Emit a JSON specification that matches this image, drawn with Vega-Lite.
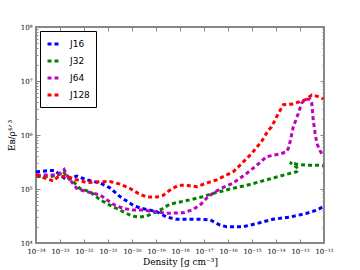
{
  "$schema": "https://vega.github.io/schema/vega-lite/v6.json",
  "width": 288,
  "height": 216,
  "autosize": {"type": "none"},
  "padding": {"left": 36, "top": 27, "right": 36, "bottom": 27},
  "background": "white",
  "config": {
    "view": {"stroke": "#888888", "strokeWidth": 2},
    "axis": {"domain": false, "grid": false, "tickColor": "#888888", "labelFont": "DejaVu Serif", "labelFontSize": 7, "labelColor": "black", "labelOverlap": false, "labelBound": false, "labelFlush": false, "titleFont": "DejaVu Serif", "titleFontWeight": "normal", "titleFontSize": 9, "titleColor": "black"}
  },
  "data": {"values": [
    {"s":"J16","i":0,"d":1e-24,"e":2.09e5},
    {"s":"J16","i":1,"d":3.8e-24,"e":2.19e5},
    {"s":"J16","i":2,"d":6.17e-24,"e":2.19e5},
    {"s":"J16","i":3,"d":1e-23,"e":1.82e5},
    {"s":"J16","i":4,"d":1.91e-23,"e":1.48e5},
    {"s":"J16","i":5,"d":5.01e-23,"e":1.74e5},
    {"s":"J16","i":6,"d":1.29e-22,"e":1.48e5},
    {"s":"J16","i":7,"d":4.68e-22,"e":1.29e5},
    {"s":"J16","i":8,"d":1.2e-21,"e":1.05e5},
    {"s":"J16","i":9,"d":3.16e-21,"e":7.24e4},
    {"s":"J16","i":10,"d":1.1e-20,"e":5.01e4},
    {"s":"J16","i":11,"d":2.14e-20,"e":4.47e4},
    {"s":"J16","i":12,"d":1.07e-19,"e":3.8e4},
    {"s":"J16","i":13,"d":2.82e-19,"e":3.02e4},
    {"s":"J16","i":14,"d":7.24e-19,"e":2.75e4},
    {"s":"J16","i":15,"d":6.76e-18,"e":2.75e4},
    {"s":"J16","i":16,"d":1.78e-17,"e":2.69e4},
    {"s":"J16","i":17,"d":4.68e-17,"e":2.14e4},
    {"s":"J16","i":18,"d":8.91e-17,"e":2.0e4},
    {"s":"J16","i":19,"d":4.17e-16,"e":2.0e4},
    {"s":"J16","i":20,"d":1.58e-15,"e":2.29e4},
    {"s":"J16","i":21,"d":7.41e-15,"e":2.75e4},
    {"s":"J16","i":22,"d":3.8e-14,"e":3.02e4},
    {"s":"J16","i":23,"d":1.91e-13,"e":3.55e4},
    {"s":"J16","i":24,"d":5.01e-13,"e":4.07e4},
    {"s":"J16","i":25,"d":9.12e-13,"e":4.68e4},
    {"s":"J32","i":0,"d":1.07e-24,"e":1.7e5},
    {"s":"J32","i":1,"d":3.8e-24,"e":1.7e5},
    {"s":"J32","i":2,"d":8.51e-24,"e":1.82e5},
    {"s":"J32","i":3,"d":1.38e-23,"e":2.09e5},
    {"s":"J32","i":4,"d":1.91e-23,"e":1.7e5},
    {"s":"J32","i":5,"d":3.55e-23,"e":1.38e5},
    {"s":"J32","i":6,"d":6.76e-23,"e":1.02e5},
    {"s":"J32","i":7,"d":1.78e-22,"e":8.91e4},
    {"s":"J32","i":8,"d":4.68e-22,"e":6.31e4},
    {"s":"J32","i":9,"d":1.2e-21,"e":5.01e4},
    {"s":"J32","i":10,"d":3.16e-21,"e":4.07e4},
    {"s":"J32","i":11,"d":9.77e-21,"e":3.16e4},
    {"s":"J32","i":12,"d":2.14e-20,"e":3.02e4},
    {"s":"J32","i":13,"d":4.07e-20,"e":3.16e4},
    {"s":"J32","i":14,"d":1.48e-19,"e":4.07e4},
    {"s":"J32","i":15,"d":3.8e-19,"e":5.25e4},
    {"s":"J32","i":16,"d":1e-18,"e":5.75e4},
    {"s":"J32","i":17,"d":2.63e-18,"e":6.31e4},
    {"s":"J32","i":18,"d":9.33e-18,"e":7.24e4},
    {"s":"J32","i":19,"d":2.45e-17,"e":8.32e4},
    {"s":"J32","i":20,"d":1.2e-16,"e":1.0e5},
    {"s":"J32","i":21,"d":6.03e-16,"e":1.17e5},
    {"s":"J32","i":22,"d":4.07e-15,"e":1.48e5},
    {"s":"J32","i":23,"d":3.8e-14,"e":1.95e5},
    {"s":"J32","i":24,"d":7.24e-14,"e":2.09e5},
    {"s":"J32","i":25,"d":8.51e-14,"e":2.4e5},
    {"s":"J32","i":26,"d":3.8e-14,"e":3.09e5},
    {"s":"J32","i":27,"d":7.24e-14,"e":2.88e5},
    {"s":"J32","i":28,"d":1.91e-13,"e":2.75e5},
    {"s":"J32","i":29,"d":5.75e-13,"e":2.75e5},
    {"s":"J32","i":30,"d":9.33e-13,"e":2.69e5},
    {"s":"J64","i":0,"d":1.07e-24,"e":1.82e5},
    {"s":"J64","i":1,"d":5.25e-24,"e":1.82e5},
    {"s":"J64","i":2,"d":1e-23,"e":1.95e5},
    {"s":"J64","i":3,"d":1.48e-23,"e":2.29e5},
    {"s":"J64","i":4,"d":1.91e-23,"e":1.82e5},
    {"s":"J64","i":5,"d":2.63e-23,"e":1.48e5},
    {"s":"J64","i":6,"d":5.01e-23,"e":1.02e5},
    {"s":"J64","i":7,"d":1.29e-22,"e":8.91e4},
    {"s":"J64","i":8,"d":4.68e-22,"e":7.76e4},
    {"s":"J64","i":9,"d":8.91e-22,"e":6.31e4},
    {"s":"J64","i":10,"d":1.95e-21,"e":5.01e4},
    {"s":"J64","i":11,"d":4.37e-21,"e":4.37e4},
    {"s":"J64","i":12,"d":1.12e-20,"e":4.07e4},
    {"s":"J64","i":13,"d":2.95e-20,"e":4.07e4},
    {"s":"J64","i":14,"d":9.12e-20,"e":3.8e4},
    {"s":"J64","i":15,"d":2.82e-19,"e":3.55e4},
    {"s":"J64","i":16,"d":1.38e-18,"e":3.63e4},
    {"s":"J64","i":17,"d":3.09e-18,"e":4.07e4},
    {"s":"J64","i":18,"d":6.76e-18,"e":5.01e4},
    {"s":"J64","i":19,"d":1.29e-17,"e":6.76e4},
    {"s":"J64","i":20,"d":2.88e-17,"e":8.91e4},
    {"s":"J64","i":21,"d":6.31e-17,"e":1.07e5},
    {"s":"J64","i":22,"d":1.66e-16,"e":1.29e5},
    {"s":"J64","i":23,"d":6.03e-16,"e":1.95e5},
    {"s":"J64","i":24,"d":1.58e-15,"e":2.75e5},
    {"s":"J64","i":25,"d":4.07e-15,"e":3.98e5},
    {"s":"J64","i":26,"d":1.48e-14,"e":4.47e5},
    {"s":"J64","i":27,"d":2.82e-14,"e":4.9e5},
    {"s":"J64","i":28,"d":3.47e-14,"e":6.03e5},
    {"s":"J64","i":29,"d":5.25e-14,"e":1.41e6},
    {"s":"J64","i":30,"d":8.51e-14,"e":2.51e6},
    {"s":"J64","i":31,"d":1.17e-13,"e":3.89e6},
    {"s":"J64","i":32,"d":1.62e-13,"e":4.57e6},
    {"s":"J64","i":33,"d":2.63e-13,"e":4.57e6},
    {"s":"J64","i":34,"d":3.09e-13,"e":3.89e6},
    {"s":"J64","i":35,"d":3.55e-13,"e":1.91e6},
    {"s":"J64","i":36,"d":4.27e-13,"e":1.07e6},
    {"s":"J64","i":37,"d":5.01e-13,"e":7.08e5},
    {"s":"J64","i":38,"d":6.76e-13,"e":5.13e5},
    {"s":"J64","i":39,"d":9.33e-13,"e":4.07e5},
    {"s":"J128","i":0,"d":1e-24,"e":1.82e5},
    {"s":"J128","i":1,"d":2e-24,"e":1.62e5},
    {"s":"J128","i":2,"d":5.25e-24,"e":1.41e5},
    {"s":"J128","i":3,"d":8.51e-24,"e":1.7e5},
    {"s":"J128","i":4,"d":1.91e-23,"e":1.7e5},
    {"s":"J128","i":5,"d":5.01e-23,"e":1.48e5},
    {"s":"J128","i":6,"d":1.29e-22,"e":1.32e5},
    {"s":"J128","i":7,"d":3.39e-22,"e":1.35e5},
    {"s":"J128","i":8,"d":1.2e-21,"e":1.38e5},
    {"s":"J128","i":9,"d":3.16e-21,"e":1.23e5},
    {"s":"J128","i":10,"d":8.32e-21,"e":1.02e5},
    {"s":"J128","i":11,"d":1.82e-20,"e":8.32e4},
    {"s":"J128","i":12,"d":4.07e-20,"e":7.08e4},
    {"s":"J128","i":13,"d":1.07e-19,"e":7.08e4},
    {"s":"J128","i":14,"d":1.95e-19,"e":7.59e4},
    {"s":"J128","i":15,"d":3.8e-19,"e":9.55e4},
    {"s":"J128","i":16,"d":8.51e-19,"e":1.17e5},
    {"s":"J128","i":17,"d":1.91e-18,"e":1.17e5},
    {"s":"J128","i":18,"d":5.01e-18,"e":1.1e5},
    {"s":"J128","i":19,"d":1.29e-17,"e":1.29e5},
    {"s":"J128","i":20,"d":3.39e-17,"e":1.48e5},
    {"s":"J128","i":21,"d":8.91e-17,"e":1.82e5},
    {"s":"J128","i":22,"d":1.66e-16,"e":2.09e5},
    {"s":"J128","i":23,"d":3.16e-16,"e":2.75e5},
    {"s":"J128","i":24,"d":9.77e-16,"e":4.57e5},
    {"s":"J128","i":25,"d":2.51e-15,"e":7.59e5},
    {"s":"J128","i":26,"d":4.79e-15,"e":1.23e6},
    {"s":"J128","i":27,"d":6.61e-15,"e":1.41e6},
    {"s":"J128","i":28,"d":1.07e-14,"e":2.19e6},
    {"s":"J128","i":29,"d":2e-14,"e":3.63e6},
    {"s":"J128","i":30,"d":4.47e-14,"e":3.72e6},
    {"s":"J128","i":31,"d":8.51e-14,"e":4.07e6},
    {"s":"J128","i":32,"d":1.62e-13,"e":4.47e6},
    {"s":"J128","i":33,"d":3.09e-13,"e":5.5e6},
    {"s":"J128","i":34,"d":5.01e-13,"e":5.25e6},
    {"s":"J128","i":35,"d":9.33e-13,"e":4.68e6}
  ]},
  "resolve": {"axis": {"x": "independent", "y": "independent"}},
  "layer": [
    {
      "mark": {"type": "line", "strokeWidth": 3, "strokeDash": [4, 3], "clip": true},
      "encoding": {
        "x": {"field": "d", "type": "quantitative", "scale": {"type": "log", "domain": [1e-24, 1e-12], "nice": false},
          "axis": {"title": "Density [g cm⁻³]", "values": [1e-24,1e-23,1e-22,1e-21,1e-20,1e-19,1e-18,1e-17,1e-16,1e-15,1e-14,1e-13,1e-12], "tickSize": -4, "labelPadding": 8, "titlePadding": 3,
            "labelExpr": "['10⁻²⁴','10⁻²³','10⁻²²','10⁻²¹','10⁻²⁰','10⁻¹⁹','10⁻¹⁸','10⁻¹⁷','10⁻¹⁶','10⁻¹⁵','10⁻¹⁴','10⁻¹³','10⁻¹²'][round(log(datum.value)/LN10)+24]"}},
        "y": {"field": "e", "type": "quantitative", "scale": {"type": "log", "domain": [1e4, 1e8], "nice": false},
          "axis": {"title": "E\u0299/ρ⁴ᐟ³", "titlePadding": 4,
            "values": [1e4,2e4,3e4,4e4,5e4,6e4,7e4,8e4,9e4,1e5,2e5,3e5,4e5,5e5,6e5,7e5,8e5,9e5,1e6,2e6,3e6,4e6,5e6,6e6,7e6,8e6,9e6,1e7,2e7,3e7,4e7,5e7,6e7,7e7,8e7,9e7,1e8],
            "tickSize": {"condition": {"test": "abs(log(datum.value)/LN10 - round(log(datum.value)/LN10)) < 0.001", "value": -4}, "value": -2},
            "labelPadding": 8,
            "labelExpr": "abs(log(datum.value)/LN10 - round(log(datum.value)/LN10)) < 0.001 ? ['10⁴','10⁵','10⁶','10⁷','10⁸'][round(log(datum.value)/LN10)-4] : ''"}},
        "color": {"field": "s", "type": "nominal", "scale": {"domain": ["J16","J32","J64","J128"], "range": ["#0000ff","#008000","#bf00bf","#ff0000"]},
          "legend": {"title": null, "orient": "none", "legendX": 4, "legendY": 4, "symbolType": "stroke", "symbolStrokeWidth": 3, "symbolDash": [4, 3], "symbolSize": 120, "labelFont": "DejaVu Sans", "labelFontSize": 9, "labelColor": "black", "rowPadding": 4, "padding": 6, "strokeColor": "black", "fillColor": "white", "labelOffset": 10}},
        "order": {"field": "i", "type": "quantitative"}
      }
    },
    {
      "mark": {"type": "line", "opacity": 0},
      "encoding": {
        "x": {"field": "d", "type": "quantitative", "axis": {"orient": "top", "title": null, "labels": false, "tickSize": -4, "values": [1e-24,1e-23,1e-22,1e-21,1e-20,1e-19,1e-18,1e-17,1e-16,1e-15,1e-14,1e-13,1e-12]}},
        "y": {"field": "e", "type": "quantitative", "axis": {"orient": "right", "title": null, "labels": false,
          "values": [1e4,2e4,3e4,4e4,5e4,6e4,7e4,8e4,9e4,1e5,2e5,3e5,4e5,5e5,6e5,7e5,8e5,9e5,1e6,2e6,3e6,4e6,5e6,6e6,7e6,8e6,9e6,1e7,2e7,3e7,4e7,5e7,6e7,7e7,8e7,9e7,1e8],
          "tickSize": {"condition": {"test": "abs(log(datum.value)/LN10 - round(log(datum.value)/LN10)) < 0.001", "value": -4}, "value": -2}}},
        "detail": {"field": "s", "type": "nominal"},
        "order": {"field": "i", "type": "quantitative"}
      }
    }
  ]
}
